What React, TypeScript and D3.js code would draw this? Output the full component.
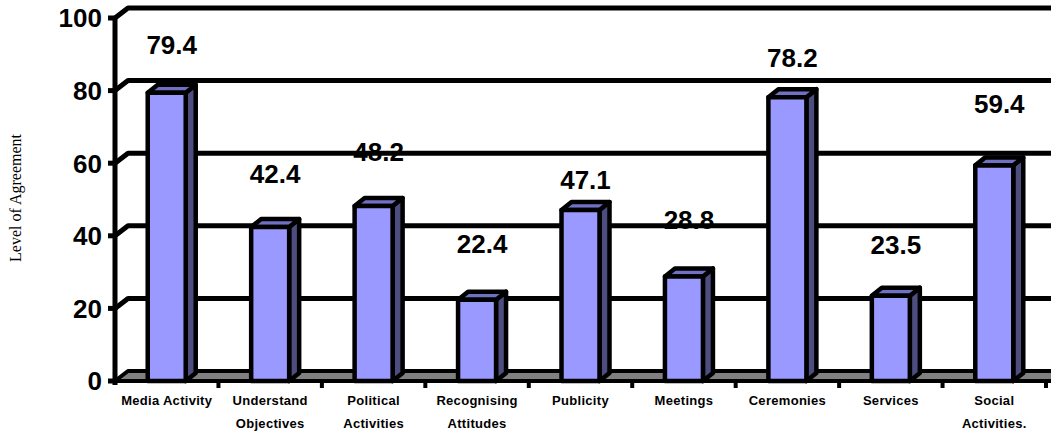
import React from "react";
import * as d3 from "d3";

const categories: string[][] = [
  ["Media Activity"],
  ["Understand", "Objectives"],
  ["Political", "Activities"],
  ["Recognising", "Attitudes"],
  ["Publicity"],
  ["Meetings"],
  ["Ceremonies"],
  ["Services"],
  ["Social", "Activities."],
];
const values: number[] = [79.4, 42.4, 48.2, 22.4, 47.1, 28.8, 78.2, 23.5, 59.4];
const yTicks: number[] = [0, 20, 40, 60, 80, 100];
// how far above each bar top its value label sits (in value units)
const labelLift: number[] = [10.7, 12.1, 12.3, 12.9, 5.8, 13.1, 8.4, 11.6, 14.3];

const W = 1051;
const H = 433;
const X0 = 115;
const X1 = 1046;
const WALL_DX = 13;
const WALL_DY = -10;
const BAR_DX = 10;
const BAR_DY = -8;
const BAR_HALF = 19;

export default function App() {
  const keys = categories.map((c) => c.join(" "));
  const x = d3.scaleBand<string>().domain(keys).range([X0, X1]).padding(0);
  const y = d3.scaleLinear().domain([0, 100]).range([381, 18]);
  const bw = x.bandwidth();
  const cx = (i: number) => (x(keys[i]) as number) + bw / 2;

  const gridPath = (v: number) =>
    `M${X0},${y(v)} L${X0 + WALL_DX},${y(v) + WALL_DY} L${W + 20},${y(v) + WALL_DY}`;

  const floor = `M${X0},${y(0)} L${X0 + WALL_DX},${y(0) + WALL_DY} L${W + 20},${y(0) + WALL_DY} L${W + 20},${y(0)} Z`;

  return (
    <svg
      width={W}
      height={H}
      style={{ position: "absolute", left: 0, top: 0, background: "#fff" }}
      fontFamily="'Liberation Sans', Arial, sans-serif"
    >
      {/* value labels (behind gridlines) */}
      {values.map((v, i) => (
        <text
          key={"vl" + i}
          x={cx(i) + 5}
          y={y(v + labelLift[i])}
          textAnchor="middle"
          fontSize={26}
          fontWeight="bold"
          fill="#000"
        >
          {v.toFixed(1)}
        </text>
      ))}

      {/* floor */}
      <path d={floor} fill="#808080" stroke="#000" strokeWidth={4} strokeLinejoin="round" />

      {/* gridlines */}
      {yTicks
        .filter((t) => t > 0)
        .map((t) => (
          <path key={"g" + t} d={gridPath(t)} fill="none" stroke="#000" strokeWidth={5} strokeLinejoin="round" />
        ))}

      {/* y axis */}
      <line x1={X0} x2={X0} y1={y(100)} y2={y(0) + 4} stroke="#000" strokeWidth={5} />
      {yTicks.map((t) => (
        <g key={"t" + t}>
          <line x1={X0 - 7} x2={X0} y1={y(t)} y2={y(t)} stroke="#000" strokeWidth={5} />
          <text
            x={102}
            y={y(t)}
            dy="0.36em"
            textAnchor="end"
            fontSize={26}
            fontWeight="bold"
            fill="#000"
          >
            {t}
          </text>
        </g>
      ))}

      {/* bottom ticks */}
      {keys.map((k, i) => (
        <line
          key={"bt" + i}
          x1={(x(k) as number) + bw}
          x2={(x(k) as number) + bw}
          y1={y(0)}
          y2={y(0) + 7}
          stroke="#000"
          strokeWidth={4}
        />
      ))}

      {/* bars */}
      {values.map((v, i) => {
        const l = cx(i) - BAR_HALF;
        const r = cx(i) + BAR_HALF;
        const top = y(v);
        const bot = y(0);
        const side = `M${r},${bot} L${r},${top} L${r + BAR_DX},${top + BAR_DY} L${r + BAR_DX},${bot + BAR_DY} Z`;
        const topFace = `M${l},${top} L${l + BAR_DX},${top + BAR_DY} L${r + BAR_DX},${top + BAR_DY} L${r},${top} Z`;
        return (
          <g key={"b" + i} stroke="#000" strokeWidth={4.5} strokeLinejoin="round">
            <path d={side} fill="#4D4D80" />
            <path d={topFace} fill="#7070C4" />
            <rect x={l} y={top} width={r - l} height={bot - top} fill="#9999FF" />
          </g>
        );
      })}

      {/* category labels */}
      {categories.map((lines, i) => (
        <text
          key={"c" + i}
          x={cx(i)}
          textAnchor="middle"
          fontSize={13}
          fontWeight="bold"
          letterSpacing={0.3}
          fill="#000"
        >
          {lines.map((ln, j) => (
            <tspan key={j} x={cx(i)} y={405 + j * 23}>
              {ln}
            </tspan>
          ))}
        </text>
      ))}

      {/* axis title */}
      <text
        transform={`translate(21,198) rotate(-90)`}
        textAnchor="middle"
        fontFamily="'Liberation Serif', 'Times New Roman', serif"
        fontSize={16}
        fill="#000"
      >
        Level of Agreement
      </text>
    </svg>
  );
}
